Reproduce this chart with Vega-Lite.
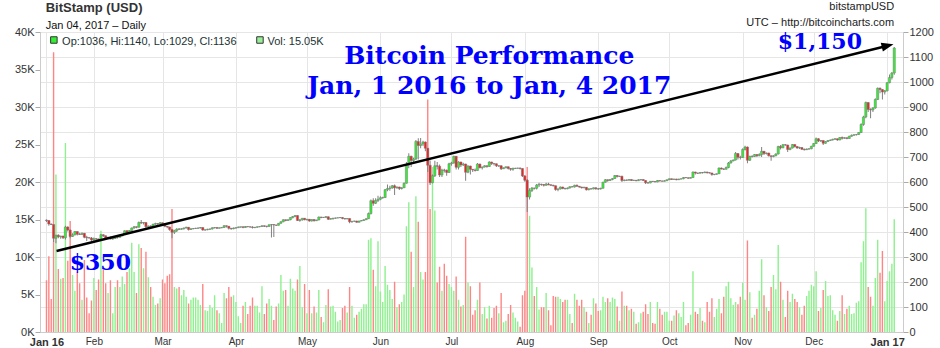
{
  "$schema": "https://vega.github.io/schema/vega-lite/v6.json",
  "autosize": {"type": "none"},
  "padding": {"left": 40, "top": 32, "right": 37, "bottom": 16},
  "width": 863,
  "height": 300,
  "background": "white",
  "config": {
    "font": "Liberation Sans",
    "view": {"stroke": "#cccccc"}
  },
  "datasets": {
    "ohlc": [
      {"d":"2016-01-12","o":448,"h":450,"l":440,"c":446,"v":6.9},
      {"d":"2016-01-13","o":446,"h":447,"l":425,"c":432,"v":10.1},
      {"d":"2016-01-14","o":432,"h":434,"l":428,"c":430,"v":4.4},
      {"d":"2016-01-15","o":430,"h":431,"l":360,"c":375,"v":37.3},
      {"d":"2016-01-16","o":375,"h":389,"l":355,"c":387,"v":21.0},
      {"d":"2016-01-17","o":387,"h":391,"l":375,"c":381,"v":8.4},
      {"d":"2016-01-18","o":381,"h":385,"l":373,"c":384,"v":7.1},
      {"d":"2016-01-19","o":384,"h":385,"l":372,"c":377,"v":7.2},
      {"d":"2016-01-20","o":377,"h":425,"l":370,"c":420,"v":25.2},
      {"d":"2016-01-21","o":420,"h":423,"l":402,"c":408,"v":9.5},
      {"d":"2016-01-22","o":408,"h":410,"l":375,"c":382,"v":14.8},
      {"d":"2016-01-23","o":382,"h":395,"l":380,"c":389,"v":7.6},
      {"d":"2016-01-24","o":389,"h":404,"l":386,"c":402,"v":5.5},
      {"d":"2016-01-25","o":402,"h":403,"l":386,"c":391,"v":8.0},
      {"d":"2016-01-26","o":391,"h":397,"l":388,"c":390,"v":6.5},
      {"d":"2016-01-27","o":390,"h":398,"l":389,"c":395,"v":4.3},
      {"d":"2016-01-28","o":395,"h":396,"l":375,"c":379,"v":9.6},
      {"d":"2016-01-29","o":379,"h":385,"l":364,"c":377,"v":4.6},
      {"d":"2016-01-30","o":377,"h":380,"l":374,"c":376,"v":2.5},
      {"d":"2016-01-31","o":376,"h":380,"l":364,"c":368,"v":4.2},
      {"d":"2016-02-01","o":368,"h":378,"l":364,"c":373,"v":7.2},
      {"d":"2016-02-02","o":373,"h":376,"l":368,"c":372,"v":5.6},
      {"d":"2016-02-03","o":372,"h":374,"l":364,"c":368,"v":7.0},
      {"d":"2016-02-04","o":368,"h":392,"l":366,"c":389,"v":13.5},
      {"d":"2016-02-05","o":389,"h":391,"l":380,"c":385,"v":8.3},
      {"d":"2016-02-06","o":385,"h":386,"l":370,"c":376,"v":6.5},
      {"d":"2016-02-07","o":376,"h":381,"l":373,"c":378,"v":5.2},
      {"d":"2016-02-08","o":378,"h":382,"l":370,"c":372,"v":6.9},
      {"d":"2016-02-09","o":372,"h":376,"l":369,"c":374,"v":2.5},
      {"d":"2016-02-10","o":374,"h":384,"l":372,"c":382,"v":6.0},
      {"d":"2016-02-11","o":382,"h":383,"l":374,"c":379,"v":6.9},
      {"d":"2016-02-12","o":379,"h":386,"l":377,"c":384,"v":6.0},
      {"d":"2016-02-13","o":384,"h":392,"l":383,"c":390,"v":7.4},
      {"d":"2016-02-14","o":390,"h":407,"l":389,"c":405,"v":6.4},
      {"d":"2016-02-15","o":405,"h":408,"l":393,"c":398,"v":8.0},
      {"d":"2016-02-16","o":398,"h":408,"l":396,"c":406,"v":8.5},
      {"d":"2016-02-17","o":406,"h":418,"l":401,"c":416,"v":11.9},
      {"d":"2016-02-18","o":416,"h":424,"l":413,"c":421,"v":8.0},
      {"d":"2016-02-19","o":421,"h":422,"l":415,"c":419,"v":5.2},
      {"d":"2016-02-20","o":419,"h":442,"l":418,"c":438,"v":11.7},
      {"d":"2016-02-21","o":438,"h":448,"l":432,"c":436,"v":11.2},
      {"d":"2016-02-22","o":436,"h":440,"l":430,"c":438,"v":8.5},
      {"d":"2016-02-23","o":438,"h":440,"l":415,"c":421,"v":10.7},
      {"d":"2016-02-24","o":421,"h":426,"l":413,"c":424,"v":7.3},
      {"d":"2016-02-25","o":424,"h":427,"l":419,"c":423,"v":6.0},
      {"d":"2016-02-26","o":423,"h":433,"l":420,"c":431,"v":4.7},
      {"d":"2016-02-27","o":431,"h":437,"l":429,"c":434,"v":3.6},
      {"d":"2016-02-28","o":434,"h":436,"l":424,"c":433,"v":3.8},
      {"d":"2016-02-29","o":433,"h":440,"l":431,"c":437,"v":4.5},
      {"d":"2016-03-01","o":437,"h":438,"l":427,"c":433,"v":7.0},
      {"d":"2016-03-02","o":433,"h":434,"l":419,"c":423,"v":6.5},
      {"d":"2016-03-03","o":423,"h":424,"l":415,"c":420,"v":7.5},
      {"d":"2016-03-04","o":420,"h":421,"l":405,"c":410,"v":7.7},
      {"d":"2016-03-05","o":410,"h":411,"l":375,"c":399,"v":16.4},
      {"d":"2016-03-06","o":399,"h":409,"l":392,"c":405,"v":6.0},
      {"d":"2016-03-07","o":405,"h":415,"l":400,"c":412,"v":5.8},
      {"d":"2016-03-08","o":412,"h":416,"l":408,"c":411,"v":6.0},
      {"d":"2016-03-09","o":411,"h":415,"l":409,"c":413,"v":4.9},
      {"d":"2016-03-10","o":413,"h":418,"l":410,"c":416,"v":5.6},
      {"d":"2016-03-11","o":416,"h":421,"l":414,"c":419,"v":4.7},
      {"d":"2016-03-12","o":419,"h":420,"l":406,"c":410,"v":3.8},
      {"d":"2016-03-13","o":410,"h":415,"l":408,"c":413,"v":4.3},
      {"d":"2016-03-14","o":413,"h":416,"l":411,"c":414,"v":4.6},
      {"d":"2016-03-15","o":414,"h":417,"l":412,"c":415,"v":4.6},
      {"d":"2016-03-16","o":415,"h":418,"l":413,"c":416,"v":4.3},
      {"d":"2016-03-17","o":416,"h":420,"l":414,"c":418,"v":3.6},
      {"d":"2016-03-18","o":418,"h":419,"l":405,"c":408,"v":6.4},
      {"d":"2016-03-19","o":408,"h":410,"l":405,"c":409,"v":2.9},
      {"d":"2016-03-20","o":409,"h":413,"l":407,"c":411,"v":2.8},
      {"d":"2016-03-21","o":411,"h":414,"l":408,"c":412,"v":3.6},
      {"d":"2016-03-22","o":412,"h":419,"l":410,"c":417,"v":3.2},
      {"d":"2016-03-23","o":417,"h":419,"l":414,"c":418,"v":4.9},
      {"d":"2016-03-24","o":418,"h":419,"l":412,"c":415,"v":2.9},
      {"d":"2016-03-25","o":415,"h":418,"l":414,"c":417,"v":2.5},
      {"d":"2016-03-26","o":417,"h":419,"l":415,"c":418,"v":1.2},
      {"d":"2016-03-27","o":418,"h":428,"l":416,"c":425,"v":5.2},
      {"d":"2016-03-28","o":425,"h":426,"l":418,"c":423,"v":4.5},
      {"d":"2016-03-29","o":423,"h":424,"l":410,"c":415,"v":6.0},
      {"d":"2016-03-30","o":415,"h":416,"l":409,"c":413,"v":4.7},
      {"d":"2016-03-31","o":413,"h":418,"l":411,"c":416,"v":4.9},
      {"d":"2016-04-01","o":416,"h":419,"l":413,"c":417,"v":4.0},
      {"d":"2016-04-02","o":417,"h":422,"l":416,"c":420,"v":2.1},
      {"d":"2016-04-03","o":420,"h":421,"l":417,"c":421,"v":1.2},
      {"d":"2016-04-04","o":421,"h":422,"l":415,"c":418,"v":3.5},
      {"d":"2016-04-05","o":418,"h":424,"l":417,"c":422,"v":4.0},
      {"d":"2016-04-06","o":422,"h":423,"l":419,"c":421,"v":2.4},
      {"d":"2016-04-07","o":421,"h":422,"l":417,"c":420,"v":3.5},
      {"d":"2016-04-08","o":420,"h":423,"l":414,"c":418,"v":4.6},
      {"d":"2016-04-09","o":418,"h":420,"l":415,"c":419,"v":3.5},
      {"d":"2016-04-10","o":419,"h":422,"l":417,"c":421,"v":3.5},
      {"d":"2016-04-11","o":421,"h":423,"l":419,"c":422,"v":2.6},
      {"d":"2016-04-12","o":422,"h":427,"l":420,"c":425,"v":6.1},
      {"d":"2016-04-13","o":425,"h":426,"l":420,"c":423,"v":2.4},
      {"d":"2016-04-14","o":423,"h":425,"l":418,"c":422,"v":3.8},
      {"d":"2016-04-15","o":422,"h":430,"l":421,"c":429,"v":4.4},
      {"d":"2016-04-16","o":429,"h":432,"l":378,"c":430,"v":3.5},
      {"d":"2016-04-17","o":430,"h":431,"l":380,"c":428,"v":1.6},
      {"d":"2016-04-18","o":428,"h":429,"l":424,"c":427,"v":3.4},
      {"d":"2016-04-19","o":427,"h":436,"l":426,"c":435,"v":3.8},
      {"d":"2016-04-20","o":435,"h":443,"l":433,"c":441,"v":7.6},
      {"d":"2016-04-21","o":441,"h":451,"l":439,"c":449,"v":5.5},
      {"d":"2016-04-22","o":449,"h":450,"l":443,"c":446,"v":5.6},
      {"d":"2016-04-23","o":446,"h":451,"l":445,"c":449,"v":3.5},
      {"d":"2016-04-24","o":449,"h":459,"l":447,"c":458,"v":7.1},
      {"d":"2016-04-25","o":458,"h":464,"l":454,"c":462,"v":5.8},
      {"d":"2016-04-26","o":462,"h":468,"l":459,"c":466,"v":5.5},
      {"d":"2016-04-27","o":466,"h":467,"l":444,"c":446,"v":7.0},
      {"d":"2016-04-28","o":446,"h":451,"l":441,"c":449,"v":8.8},
      {"d":"2016-04-29","o":449,"h":456,"l":445,"c":455,"v":3.3},
      {"d":"2016-04-30","o":455,"h":456,"l":447,"c":449,"v":6.4},
      {"d":"2016-05-01","o":449,"h":452,"l":446,"c":451,"v":2.5},
      {"d":"2016-05-02","o":451,"h":452,"l":441,"c":444,"v":5.6},
      {"d":"2016-05-03","o":444,"h":451,"l":442,"c":450,"v":2.5},
      {"d":"2016-05-04","o":450,"h":451,"l":442,"c":445,"v":3.4},
      {"d":"2016-05-05","o":445,"h":449,"l":444,"c":448,"v":2.6},
      {"d":"2016-05-06","o":448,"h":462,"l":447,"c":460,"v":5.6},
      {"d":"2016-05-07","o":460,"h":461,"l":455,"c":458,"v":2.0},
      {"d":"2016-05-08","o":458,"h":460,"l":456,"c":459,"v":1.3},
      {"d":"2016-05-09","o":459,"h":464,"l":456,"c":461,"v":3.6},
      {"d":"2016-05-10","o":461,"h":462,"l":448,"c":451,"v":5.7},
      {"d":"2016-05-11","o":451,"h":455,"l":450,"c":454,"v":3.4},
      {"d":"2016-05-12","o":454,"h":457,"l":449,"c":455,"v":3.5},
      {"d":"2016-05-13","o":455,"h":458,"l":453,"c":456,"v":2.7},
      {"d":"2016-05-14","o":456,"h":458,"l":455,"c":457,"v":1.4},
      {"d":"2016-05-15","o":457,"h":460,"l":456,"c":458,"v":1.6},
      {"d":"2016-05-16","o":458,"h":459,"l":451,"c":454,"v":3.2},
      {"d":"2016-05-17","o":454,"h":455,"l":450,"c":452,"v":3.5},
      {"d":"2016-05-18","o":452,"h":455,"l":451,"c":454,"v":2.6},
      {"d":"2016-05-19","o":454,"h":455,"l":435,"c":441,"v":6.0},
      {"d":"2016-05-20","o":441,"h":444,"l":437,"c":443,"v":3.5},
      {"d":"2016-05-21","o":443,"h":445,"l":441,"c":444,"v":1.9},
      {"d":"2016-05-22","o":444,"h":445,"l":437,"c":439,"v":2.3},
      {"d":"2016-05-23","o":439,"h":445,"l":438,"c":444,"v":2.7},
      {"d":"2016-05-24","o":444,"h":448,"l":443,"c":446,"v":3.1},
      {"d":"2016-05-25","o":446,"h":451,"l":445,"c":449,"v":3.7},
      {"d":"2016-05-26","o":449,"h":455,"l":448,"c":453,"v":3.7},
      {"d":"2016-05-27","o":453,"h":478,"l":452,"c":474,"v":12.3},
      {"d":"2016-05-28","o":474,"h":530,"l":470,"c":525,"v":12.5},
      {"d":"2016-05-29","o":525,"h":535,"l":505,"c":515,"v":8.3},
      {"d":"2016-05-30","o":515,"h":535,"l":512,"c":526,"v":6.1},
      {"d":"2016-05-31","o":526,"h":545,"l":520,"c":531,"v":12.1},
      {"d":"2016-06-01","o":531,"h":543,"l":527,"c":537,"v":5.4},
      {"d":"2016-06-02","o":537,"h":541,"l":533,"c":538,"v":4.0},
      {"d":"2016-06-03","o":538,"h":572,"l":536,"c":569,"v":8.8},
      {"d":"2016-06-04","o":569,"h":590,"l":563,"c":574,"v":6.3},
      {"d":"2016-06-05","o":574,"h":585,"l":565,"c":576,"v":5.6},
      {"d":"2016-06-06","o":576,"h":588,"l":573,"c":585,"v":4.4},
      {"d":"2016-06-07","o":585,"h":590,"l":548,"c":577,"v":6.7},
      {"d":"2016-06-08","o":577,"h":582,"l":573,"c":580,"v":3.3},
      {"d":"2016-06-09","o":580,"h":581,"l":568,"c":574,"v":3.7},
      {"d":"2016-06-10","o":574,"h":579,"l":570,"c":577,"v":4.0},
      {"d":"2016-06-11","o":577,"h":598,"l":576,"c":595,"v":5.0},
      {"d":"2016-06-12","o":595,"h":680,"l":594,"c":668,"v":14.1},
      {"d":"2016-06-13","o":668,"h":715,"l":655,"c":703,"v":17.3},
      {"d":"2016-06-14","o":703,"h":705,"l":660,"c":686,"v":10.7},
      {"d":"2016-06-15","o":686,"h":697,"l":672,"c":692,"v":6.0},
      {"d":"2016-06-16","o":692,"h":768,"l":688,"c":762,"v":18.1},
      {"d":"2016-06-17","o":762,"h":775,"l":690,"c":746,"v":14.7},
      {"d":"2016-06-18","o":746,"h":776,"l":735,"c":752,"v":8.0},
      {"d":"2016-06-19","o":752,"h":765,"l":744,"c":760,"v":7.0},
      {"d":"2016-06-20","o":760,"h":762,"l":723,"c":735,"v":8.0},
      {"d":"2016-06-21","o":735,"h":736,"l":640,"c":667,"v":31.0},
      {"d":"2016-06-22","o":667,"h":686,"l":588,"c":597,"v":16.4},
      {"d":"2016-06-23","o":597,"h":630,"l":595,"c":625,"v":22.0},
      {"d":"2016-06-24","o":625,"h":685,"l":620,"c":665,"v":16.2},
      {"d":"2016-06-25","o":665,"h":680,"l":650,"c":663,"v":6.6},
      {"d":"2016-06-26","o":663,"h":670,"l":620,"c":628,"v":8.7},
      {"d":"2016-06-27","o":628,"h":653,"l":620,"c":648,"v":5.5},
      {"d":"2016-06-28","o":648,"h":653,"l":638,"c":647,"v":9.1},
      {"d":"2016-06-29","o":647,"h":650,"l":625,"c":638,"v":7.5},
      {"d":"2016-06-30","o":638,"h":677,"l":636,"c":673,"v":6.4},
      {"d":"2016-07-01","o":673,"h":681,"l":665,"c":676,"v":6.0},
      {"d":"2016-07-02","o":676,"h":705,"l":673,"c":703,"v":5.5},
      {"d":"2016-07-03","o":703,"h":704,"l":650,"c":659,"v":7.4},
      {"d":"2016-07-04","o":659,"h":683,"l":650,"c":680,"v":4.3},
      {"d":"2016-07-05","o":680,"h":681,"l":660,"c":668,"v":3.4},
      {"d":"2016-07-06","o":668,"h":677,"l":664,"c":672,"v":3.6},
      {"d":"2016-07-07","o":672,"h":673,"l":605,"c":639,"v":12.7},
      {"d":"2016-07-08","o":639,"h":667,"l":635,"c":664,"v":6.6},
      {"d":"2016-07-09","o":664,"h":665,"l":630,"c":651,"v":6.1},
      {"d":"2016-07-10","o":651,"h":652,"l":640,"c":648,"v":2.3},
      {"d":"2016-07-11","o":648,"h":654,"l":642,"c":646,"v":2.9},
      {"d":"2016-07-12","o":646,"h":676,"l":645,"c":672,"v":4.3},
      {"d":"2016-07-13","o":672,"h":673,"l":655,"c":657,"v":6.6},
      {"d":"2016-07-14","o":657,"h":662,"l":650,"c":660,"v":2.4},
      {"d":"2016-07-15","o":660,"h":667,"l":658,"c":665,"v":3.3},
      {"d":"2016-07-16","o":665,"h":666,"l":657,"c":662,"v":1.8},
      {"d":"2016-07-17","o":662,"h":683,"l":660,"c":680,"v":3.5},
      {"d":"2016-07-18","o":680,"h":681,"l":668,"c":674,"v":1.9},
      {"d":"2016-07-19","o":674,"h":675,"l":666,"c":673,"v":3.2},
      {"d":"2016-07-20","o":673,"h":674,"l":660,"c":665,"v":3.5},
      {"d":"2016-07-21","o":664,"h":667,"l":660,"c":665,"v":2.5},
      {"d":"2016-07-22","o":665,"h":667,"l":648,"c":653,"v":5.2},
      {"d":"2016-07-23","o":653,"h":658,"l":652,"c":657,"v":1.3},
      {"d":"2016-07-24","o":657,"h":662,"l":655,"c":661,"v":1.5},
      {"d":"2016-07-25","o":661,"h":662,"l":650,"c":654,"v":2.4},
      {"d":"2016-07-26","o":654,"h":656,"l":645,"c":651,"v":3.6},
      {"d":"2016-07-27","o":651,"h":657,"l":645,"c":655,"v":2.6},
      {"d":"2016-07-28","o":654,"h":657,"l":652,"c":655,"v":1.9},
      {"d":"2016-07-29","o":655,"h":657,"l":653,"c":656,"v":1.4},
      {"d":"2016-07-30","o":656,"h":658,"l":650,"c":654,"v":0.7},
      {"d":"2016-07-31","o":654,"h":655,"l":620,"c":624,"v":4.9},
      {"d":"2016-08-01","o":624,"h":628,"l":601,"c":607,"v":5.5},
      {"d":"2016-08-02","o":607,"h":612,"l":480,"c":540,"v":22.0},
      {"d":"2016-08-03","o":540,"h":575,"l":530,"c":566,"v":15.5},
      {"d":"2016-08-04","o":566,"h":580,"l":560,"c":576,"v":8.6},
      {"d":"2016-08-05","o":576,"h":577,"l":570,"c":575,"v":4.8},
      {"d":"2016-08-06","o":575,"h":592,"l":570,"c":588,"v":6.0},
      {"d":"2016-08-07","o":588,"h":597,"l":580,"c":591,"v":3.0},
      {"d":"2016-08-08","o":591,"h":593,"l":585,"c":590,"v":3.3},
      {"d":"2016-08-09","o":590,"h":592,"l":582,"c":587,"v":3.3},
      {"d":"2016-08-10","o":587,"h":597,"l":585,"c":592,"v":5.2},
      {"d":"2016-08-11","o":592,"h":597,"l":587,"c":589,"v":2.9},
      {"d":"2016-08-12","o":589,"h":590,"l":584,"c":587,"v":0.9},
      {"d":"2016-08-13","o":587,"h":589,"l":582,"c":585,"v":4.8},
      {"d":"2016-08-14","o":585,"h":586,"l":565,"c":570,"v":4.7},
      {"d":"2016-08-15","o":570,"h":575,"l":563,"c":572,"v":4.7},
      {"d":"2016-08-16","o":572,"h":582,"l":570,"c":580,"v":4.4},
      {"d":"2016-08-17","o":580,"h":581,"l":571,"c":574,"v":4.0},
      {"d":"2016-08-18","o":574,"h":577,"l":570,"c":573,"v":4.3},
      {"d":"2016-08-19","o":573,"h":578,"l":571,"c":576,"v":4.3},
      {"d":"2016-08-20","o":576,"h":583,"l":574,"c":581,"v":2.4},
      {"d":"2016-08-21","o":581,"h":584,"l":579,"c":580,"v":1.2},
      {"d":"2016-08-22","o":580,"h":589,"l":578,"c":587,"v":5.1},
      {"d":"2016-08-23","o":587,"h":590,"l":581,"c":583,"v":4.3},
      {"d":"2016-08-24","o":583,"h":584,"l":577,"c":580,"v":3.5},
      {"d":"2016-08-25","o":580,"h":581,"l":574,"c":577,"v":4.3},
      {"d":"2016-08-26","o":577,"h":581,"l":575,"c":579,"v":3.3},
      {"d":"2016-08-27","o":579,"h":580,"l":566,"c":569,"v":2.7},
      {"d":"2016-08-28","o":569,"h":574,"l":567,"c":573,"v":1.2},
      {"d":"2016-08-29","o":573,"h":575,"l":570,"c":572,"v":2.3},
      {"d":"2016-08-30","o":572,"h":578,"l":571,"c":577,"v":4.5},
      {"d":"2016-08-31","o":577,"h":578,"l":569,"c":573,"v":3.8},
      {"d":"2016-09-01","o":573,"h":575,"l":568,"c":572,"v":2.8},
      {"d":"2016-09-02","o":572,"h":577,"l":570,"c":575,"v":2.9},
      {"d":"2016-09-03","o":575,"h":601,"l":574,"c":599,"v":4.7},
      {"d":"2016-09-04","o":599,"h":612,"l":597,"c":609,"v":4.0},
      {"d":"2016-09-05","o":609,"h":610,"l":601,"c":606,"v":4.5},
      {"d":"2016-09-06","o":606,"h":612,"l":604,"c":610,"v":4.0},
      {"d":"2016-09-07","o":610,"h":616,"l":607,"c":614,"v":4.6},
      {"d":"2016-09-08","o":614,"h":628,"l":612,"c":626,"v":4.4},
      {"d":"2016-09-09","o":626,"h":627,"l":618,"c":622,"v":3.4},
      {"d":"2016-09-10","o":622,"h":625,"l":620,"c":623,"v":1.5},
      {"d":"2016-09-11","o":623,"h":625,"l":600,"c":606,"v":5.4},
      {"d":"2016-09-12","o":606,"h":610,"l":603,"c":608,"v":3.5},
      {"d":"2016-09-13","o":608,"h":610,"l":605,"c":607,"v":3.5},
      {"d":"2016-09-14","o":607,"h":611,"l":606,"c":610,"v":2.9},
      {"d":"2016-09-15","o":610,"h":611,"l":604,"c":606,"v":3.1},
      {"d":"2016-09-16","o":606,"h":609,"l":604,"c":607,"v":2.7},
      {"d":"2016-09-17","o":607,"h":608,"l":603,"c":605,"v":1.1},
      {"d":"2016-09-18","o":605,"h":611,"l":604,"c":609,"v":1.3},
      {"d":"2016-09-19","o":609,"h":611,"l":606,"c":610,"v":2.5},
      {"d":"2016-09-20","o":610,"h":611,"l":604,"c":606,"v":2.7},
      {"d":"2016-09-21","o":606,"h":607,"l":592,"c":597,"v":3.7},
      {"d":"2016-09-22","o":597,"h":599,"l":593,"c":596,"v":2.4},
      {"d":"2016-09-23","o":596,"h":604,"l":595,"c":603,"v":4.0},
      {"d":"2016-09-24","o":603,"h":604,"l":600,"c":602,"v":1.2},
      {"d":"2016-09-25","o":602,"h":603,"l":599,"c":600,"v":1.1},
      {"d":"2016-09-26","o":600,"h":608,"l":599,"c":606,"v":4.0},
      {"d":"2016-09-27","o":606,"h":607,"l":602,"c":604,"v":3.1},
      {"d":"2016-09-28","o":604,"h":606,"l":602,"c":603,"v":2.3},
      {"d":"2016-09-29","o":603,"h":607,"l":602,"c":605,"v":2.7},
      {"d":"2016-09-30","o":605,"h":610,"l":604,"c":609,"v":2.7},
      {"d":"2016-10-01","o":609,"h":614,"l":608,"c":613,"v":1.5},
      {"d":"2016-10-02","o":613,"h":614,"l":608,"c":610,"v":1.5},
      {"d":"2016-10-03","o":610,"h":613,"l":609,"c":612,"v":2.2},
      {"d":"2016-10-04","o":612,"h":613,"l":607,"c":609,"v":2.9},
      {"d":"2016-10-05","o":609,"h":613,"l":608,"c":612,"v":2.5},
      {"d":"2016-10-06","o":612,"h":614,"l":610,"c":613,"v":2.0},
      {"d":"2016-10-07","o":613,"h":620,"l":611,"c":618,"v":4.0},
      {"d":"2016-10-08","o":618,"h":620,"l":616,"c":617,"v":0.9},
      {"d":"2016-10-09","o":617,"h":618,"l":613,"c":615,"v":1.2},
      {"d":"2016-10-10","o":615,"h":619,"l":614,"c":618,"v":2.3},
      {"d":"2016-10-11","o":618,"h":642,"l":617,"c":640,"v":8.1},
      {"d":"2016-10-12","o":640,"h":641,"l":630,"c":636,"v":2.7},
      {"d":"2016-10-13","o":636,"h":637,"l":632,"c":635,"v":2.4},
      {"d":"2016-10-14","o":635,"h":640,"l":634,"c":638,"v":3.2},
      {"d":"2016-10-15","o":638,"h":640,"l":634,"c":637,"v":1.5},
      {"d":"2016-10-16","o":637,"h":642,"l":636,"c":640,"v":1.3},
      {"d":"2016-10-17","o":640,"h":641,"l":634,"c":637,"v":4.0},
      {"d":"2016-10-18","o":637,"h":639,"l":634,"c":636,"v":2.7},
      {"d":"2016-10-19","o":636,"h":637,"l":625,"c":630,"v":4.5},
      {"d":"2016-10-20","o":630,"h":632,"l":627,"c":631,"v":2.0},
      {"d":"2016-10-21","o":631,"h":634,"l":629,"c":633,"v":3.1},
      {"d":"2016-10-22","o":633,"h":658,"l":632,"c":656,"v":4.4},
      {"d":"2016-10-23","o":656,"h":658,"l":650,"c":652,"v":2.5},
      {"d":"2016-10-24","o":652,"h":655,"l":648,"c":651,"v":4.7},
      {"d":"2016-10-25","o":651,"h":662,"l":650,"c":658,"v":6.1},
      {"d":"2016-10-26","o":658,"h":680,"l":655,"c":676,"v":6.7},
      {"d":"2016-10-27","o":676,"h":688,"l":674,"c":684,"v":4.5},
      {"d":"2016-10-28","o":684,"h":690,"l":683,"c":688,"v":3.6},
      {"d":"2016-10-29","o":688,"h":720,"l":686,"c":714,"v":4.0},
      {"d":"2016-10-30","o":714,"h":716,"l":690,"c":699,"v":3.7},
      {"d":"2016-10-31","o":699,"h":705,"l":690,"c":698,"v":4.7},
      {"d":"2016-11-01","o":698,"h":735,"l":696,"c":730,"v":6.6},
      {"d":"2016-11-02","o":730,"h":745,"l":726,"c":740,"v":4.3},
      {"d":"2016-11-03","o":740,"h":742,"l":675,"c":687,"v":12.2},
      {"d":"2016-11-04","o":687,"h":705,"l":684,"c":703,"v":5.3},
      {"d":"2016-11-05","o":703,"h":707,"l":698,"c":702,"v":1.9},
      {"d":"2016-11-06","o":702,"h":712,"l":700,"c":710,"v":2.3},
      {"d":"2016-11-07","o":710,"h":711,"l":700,"c":705,"v":3.1},
      {"d":"2016-11-08","o":705,"h":715,"l":703,"c":710,"v":5.5},
      {"d":"2016-11-09","o":710,"h":740,"l":700,"c":723,"v":9.7},
      {"d":"2016-11-10","o":723,"h":724,"l":708,"c":714,"v":4.9},
      {"d":"2016-11-11","o":714,"h":718,"l":710,"c":716,"v":3.3},
      {"d":"2016-11-12","o":716,"h":717,"l":702,"c":705,"v":2.8},
      {"d":"2016-11-13","o":705,"h":706,"l":685,"c":702,"v":6.0},
      {"d":"2016-11-14","o":702,"h":707,"l":699,"c":705,"v":7.6},
      {"d":"2016-11-15","o":705,"h":715,"l":703,"c":712,"v":5.7},
      {"d":"2016-11-16","o":712,"h":745,"l":710,"c":742,"v":11.6},
      {"d":"2016-11-17","o":742,"h":748,"l":730,"c":737,"v":6.7},
      {"d":"2016-11-18","o":737,"h":752,"l":735,"c":749,"v":4.3},
      {"d":"2016-11-19","o":749,"h":752,"l":745,"c":748,"v":2.0},
      {"d":"2016-11-20","o":748,"h":749,"l":720,"c":730,"v":5.5},
      {"d":"2016-11-21","o":730,"h":738,"l":727,"c":736,"v":4.0},
      {"d":"2016-11-22","o":736,"h":752,"l":734,"c":750,"v":5.1},
      {"d":"2016-11-23","o":750,"h":751,"l":738,"c":742,"v":4.4},
      {"d":"2016-11-24","o":742,"h":743,"l":733,"c":736,"v":4.0},
      {"d":"2016-11-25","o":736,"h":741,"l":732,"c":738,"v":3.3},
      {"d":"2016-11-26","o":738,"h":739,"l":728,"c":731,"v":2.3},
      {"d":"2016-11-27","o":731,"h":734,"l":726,"c":729,"v":3.5},
      {"d":"2016-11-28","o":729,"h":734,"l":728,"c":732,"v":4.8},
      {"d":"2016-11-29","o":732,"h":735,"l":729,"c":733,"v":5.5},
      {"d":"2016-11-30","o":733,"h":745,"l":731,"c":743,"v":6.3},
      {"d":"2016-12-01","o":743,"h":756,"l":741,"c":754,"v":6.1},
      {"d":"2016-12-02","o":754,"h":778,"l":752,"c":773,"v":8.1},
      {"d":"2016-12-03","o":773,"h":775,"l":760,"c":764,"v":2.8},
      {"d":"2016-12-04","o":764,"h":768,"l":760,"c":766,"v":3.2},
      {"d":"2016-12-05","o":766,"h":767,"l":748,"c":755,"v":5.6},
      {"d":"2016-12-06","o":755,"h":764,"l":753,"c":762,"v":6.8},
      {"d":"2016-12-07","o":762,"h":768,"l":760,"c":766,"v":4.8},
      {"d":"2016-12-08","o":766,"h":770,"l":764,"c":768,"v":4.9},
      {"d":"2016-12-09","o":768,"h":773,"l":766,"c":771,"v":2.9},
      {"d":"2016-12-10","o":771,"h":775,"l":769,"c":773,"v":2.3},
      {"d":"2016-12-11","o":773,"h":774,"l":765,"c":768,"v":1.5},
      {"d":"2016-12-12","o":768,"h":780,"l":767,"c":778,"v":2.8},
      {"d":"2016-12-13","o":778,"h":782,"l":770,"c":775,"v":4.9},
      {"d":"2016-12-14","o":775,"h":779,"l":773,"c":777,"v":2.4},
      {"d":"2016-12-15","o":777,"h":778,"l":771,"c":774,"v":3.1},
      {"d":"2016-12-16","o":774,"h":785,"l":773,"c":783,"v":3.5},
      {"d":"2016-12-17","o":783,"h":790,"l":781,"c":787,"v":2.4},
      {"d":"2016-12-18","o":787,"h":791,"l":785,"c":789,"v":2.5},
      {"d":"2016-12-19","o":789,"h":792,"l":786,"c":790,"v":3.9},
      {"d":"2016-12-20","o":790,"h":800,"l":788,"c":798,"v":4.1},
      {"d":"2016-12-21","o":798,"h":835,"l":796,"c":830,"v":9.3},
      {"d":"2016-12-22","o":830,"h":865,"l":825,"c":860,"v":12.1},
      {"d":"2016-12-23","o":860,"h":922,"l":855,"c":918,"v":16.5},
      {"d":"2016-12-24","o":918,"h":920,"l":880,"c":890,"v":6.0},
      {"d":"2016-12-25","o":890,"h":895,"l":855,"c":888,"v":4.7},
      {"d":"2016-12-26","o":888,"h":900,"l":880,"c":896,"v":3.5},
      {"d":"2016-12-27","o":896,"h":935,"l":893,"c":930,"v":7.2},
      {"d":"2016-12-28","o":930,"h":978,"l":928,"c":975,"v":12.3},
      {"d":"2016-12-29","o":975,"h":978,"l":955,"c":970,"v":7.9},
      {"d":"2016-12-30","o":970,"h":972,"l":930,"c":960,"v":10.8},
      {"d":"2016-12-31","o":960,"h":968,"l":950,"c":965,"v":4.1},
      {"d":"2017-01-01","o":965,"h":1000,"l":962,"c":997,"v":6.8},
      {"d":"2017-01-02","o":997,"h":1030,"l":995,"c":1018,"v":8.1},
      {"d":"2017-01-03","o":1018,"h":1040,"l":1010,"c":1036,"v":9.1},
      {"d":"2017-01-04","o":1036,"h":1140,"l":1029,"c":1136,"v":15.05}
    ]
  },
  "encoding": {
    "x": {
      "field": "d",
      "type": "temporal",
      "scale": {
        "type": "utc",
        "domain": [
          {"year": 2016, "month": 1, "date": 11, "hours": 9, "utc": true},
          {"year": 2017, "month": 1, "date": 5, "hours": 14, "utc": true}
        ]
      },
      "axis": {
        "title": null,
        "values": [
          {"year": 2016, "month": 1, "date": 12, "utc": true},
          {"year": 2016, "month": 2, "date": 1, "utc": true},
          {"year": 2016, "month": 3, "date": 1, "utc": true},
          {"year": 2016, "month": 4, "date": 1, "utc": true},
          {"year": 2016, "month": 5, "date": 1, "utc": true},
          {"year": 2016, "month": 6, "date": 1, "utc": true},
          {"year": 2016, "month": 7, "date": 1, "utc": true},
          {"year": 2016, "month": 8, "date": 1, "utc": true},
          {"year": 2016, "month": 9, "date": 1, "utc": true},
          {"year": 2016, "month": 10, "date": 1, "utc": true},
          {"year": 2016, "month": 11, "date": 1, "utc": true},
          {"year": 2016, "month": 12, "date": 1, "utc": true},
          {"year": 2017, "month": 1, "date": 1, "utc": true}
        ],
        "labelExpr": "utcmonth(datum.value) == 0 ? utcFormat(datum.value, '%b %y') : utcFormat(datum.value, '%b')",
        "labelFontWeight": {"condition": {"test": "utcmonth(datum.value) == 0", "value": "bold"}, "value": "normal"},
        "labelFontSize": {"condition": {"test": "utcmonth(datum.value) == 0", "value": 11}, "value": 10},
        "labelFlush": false,
        "labelOverlap": false,
        "ticks": false,
        "labelPadding": 4,
        "labelColor": "#333333",
        "grid": true,
        "gridColor": "#e6e6e6",
        "domainColor": "#cccccc"
      }
    }
  },
  "layer": [
    {
      "data": {"name": "ohlc"},
      "mark": {"type": "bar", "size": 1.4},
      "encoding": {
        "y": {
          "field": "v",
          "type": "quantitative",
          "scale": {"domain": [0, 40]},
          "axis": {
            "orient": "left",
            "title": null,
            "values": [0, 5, 10, 15, 20, 25, 30, 35, 40],
            "labelExpr": "datum.value + 'K'",
            "grid": false,
            "tickSize": 5,
            "tickColor": "#aaaaaa",
            "domainColor": "#cccccc",
            "labelPadding": 1,
            "labelFontSize": 11,
            "labelColor": "#333333"
          }
        },
        "color": {"condition": {"test": "datum.c >= datum.o", "value": "#8ef08e"}, "value": "#ff8585"}
      }
    },
    {
      "data": {"name": "ohlc"},
      "mark": {"type": "rule", "color": "#808080", "strokeWidth": 1},
      "encoding": {
        "y": {
          "field": "l",
          "type": "quantitative",
          "scale": {"domain": [0, 1200]},
          "axis": {
            "orient": "right",
            "title": null,
            "values": [0, 100, 200, 300, 400, 500, 600, 700, 800, 900, 1000, 1100, 1200],
            "format": "d",
            "grid": true,
            "gridColor": "#e6e6e6",
            "tickSize": 5,
            "tickColor": "#aaaaaa",
            "domainColor": "#cccccc",
            "labelPadding": 1,
            "labelFontSize": 11,
            "labelColor": "#333333"
          }
        },
        "y2": {"field": "h"}
      }
    },
    {
      "data": {"name": "ohlc"},
      "mark": {"type": "bar", "size": 2.2, "stroke": "#7a7a7a", "strokeWidth": 0.5},
      "encoding": {
        "y": {"field": "o", "type": "quantitative", "scale": {"domain": [0, 1200]}, "axis": null},
        "y2": {"field": "c"},
        "color": {"condition": {"test": "datum.c >= datum.o", "value": "#33ee33"}, "value": "#ee2222"}
      }
    },
    {
      "data": {"values": [
        {"d": "2016-01-16T06:00:00Z", "p": 324},
        {"d": "2017-01-01T05:00:00Z", "p": 1145}
      ]},
      "mark": {"type": "line", "color": "#000000", "strokeWidth": 2.5},
      "encoding": {
        "y": {"field": "p", "type": "quantitative", "scale": {"domain": [0, 1200]}, "axis": null}
      }
    },
    {
      "data": {"values": [
        {"d": "2017-01-01T05:00:00Z", "p": 1145}
      ]},
      "mark": {"type": "point", "shape": "M 1,0 L -1,-0.75 L -1,0.75 Z", "filled": true, "color": "#000000", "opacity": 1, "size": 144, "angle": 346.3},
      "encoding": {
        "y": {"field": "p", "type": "quantitative", "scale": {"domain": [0, 1200]}, "axis": null}
      }
    },
    {
      "data": {"values": [
        {"d": "2016-07-17T00:00:00Z", "p": 1071, "t": "Bitcoin Performance"},
        {"d": "2016-07-17T00:00:00Z", "p": 952, "t": "Jan, 1 2016 to Jan, 4 2017"}
      ]},
      "mark": {"type": "text", "font": "DejaVu Serif", "fontWeight": "bold", "fontSize": 25, "color": "#0000ff", "align": "center", "baseline": "alphabetic"},
      "encoding": {
        "y": {"field": "p", "type": "quantitative", "scale": {"domain": [0, 1200]}, "axis": null},
        "text": {"field": "t"}
      }
    },
    {
      "data": {"values": [
        {"d": "2016-02-03T18:00:00Z", "p": 250, "t": "$350"},
        {"d": "2016-12-03T14:00:00Z", "p": 1132, "t": "$1,150"}
      ]},
      "mark": {"type": "text", "font": "DejaVu Serif", "fontWeight": "bold", "fontSize": 22, "color": "#0000ff", "align": "center", "baseline": "alphabetic"},
      "encoding": {
        "y": {"field": "p", "type": "quantitative", "scale": {"domain": [0, 1200]}, "axis": null},
        "text": {"field": "t"}
      }
    },
    {
      "data": {"values": [
        {"d": "2017-01-03T23:00:00Z", "p": 1289, "t": "bitstampUSD"},
        {"d": "2017-01-03T23:00:00Z", "p": 1223, "t": "UTC – http://bitcoincharts.com"}
      ]},
      "mark": {"type": "text", "fontSize": 11, "color": "#222222", "align": "right", "baseline": "alphabetic"},
      "encoding": {
        "y": {"field": "p", "type": "quantitative", "scale": {"domain": [0, 1200]}, "axis": null},
        "text": {"field": "t"}
      }
    },
    {
      "data": {"values": [
        {"d": "2016-01-11T16:00:00Z", "p": 1280, "t": "BitStamp (USD)"}
      ]},
      "mark": {"type": "text", "fontSize": 13, "fontWeight": "bold", "color": "#333333", "align": "left", "baseline": "alphabetic"},
      "encoding": {
        "y": {"field": "p", "type": "quantitative", "scale": {"domain": [0, 1200]}, "axis": null},
        "text": {"field": "t"}
      }
    },
    {
      "data": {"values": [
        {"d": "2016-01-11T16:00:00Z", "p": 1212, "t": "Jan 04, 2017 – Daily"}
      ]},
      "mark": {"type": "text", "fontSize": 11, "color": "#111111", "align": "left", "baseline": "alphabetic"},
      "encoding": {
        "y": {"field": "p", "type": "quantitative", "scale": {"domain": [0, 1200]}, "axis": null},
        "text": {"field": "t"}
      }
    },
    {
      "data": {"values": [
        {"d": "2016-01-15T03:00:00Z", "p": 1168}
      ]},
      "mark": {"type": "point", "shape": "square", "filled": true, "fill": "#33ee33", "stroke": "#333333", "strokeWidth": 1, "opacity": 1, "size": 42},
      "encoding": {
        "y": {"field": "p", "type": "quantitative", "scale": {"domain": [0, 1200]}, "axis": null}
      }
    },
    {
      "data": {"values": [
        {"d": "2016-04-11T03:36:00Z", "p": 1168}
      ]},
      "mark": {"type": "point", "shape": "square", "filled": true, "fill": "#99ee99", "stroke": "#333333", "strokeWidth": 1, "opacity": 1, "size": 42},
      "encoding": {
        "y": {"field": "p", "type": "quantitative", "scale": {"domain": [0, 1200]}, "axis": null}
      }
    },
    {
      "data": {"values": [
        {"d": "2016-01-18T14:24:00Z", "p": 1150, "t": "Op:1036, Hi:1140, Lo:1029, Cl:1136"},
        {"d": "2016-04-14T07:00:00Z", "p": 1150, "t": "Vol: 15.05K"}
      ]},
      "mark": {"type": "text", "fontSize": 11, "color": "#1c3333", "align": "left", "baseline": "alphabetic"},
      "encoding": {
        "y": {"field": "p", "type": "quantitative", "scale": {"domain": [0, 1200]}, "axis": null},
        "text": {"field": "t"}
      }
    }
  ],
  "resolve": {"scale": {"y": "independent"}}
}
